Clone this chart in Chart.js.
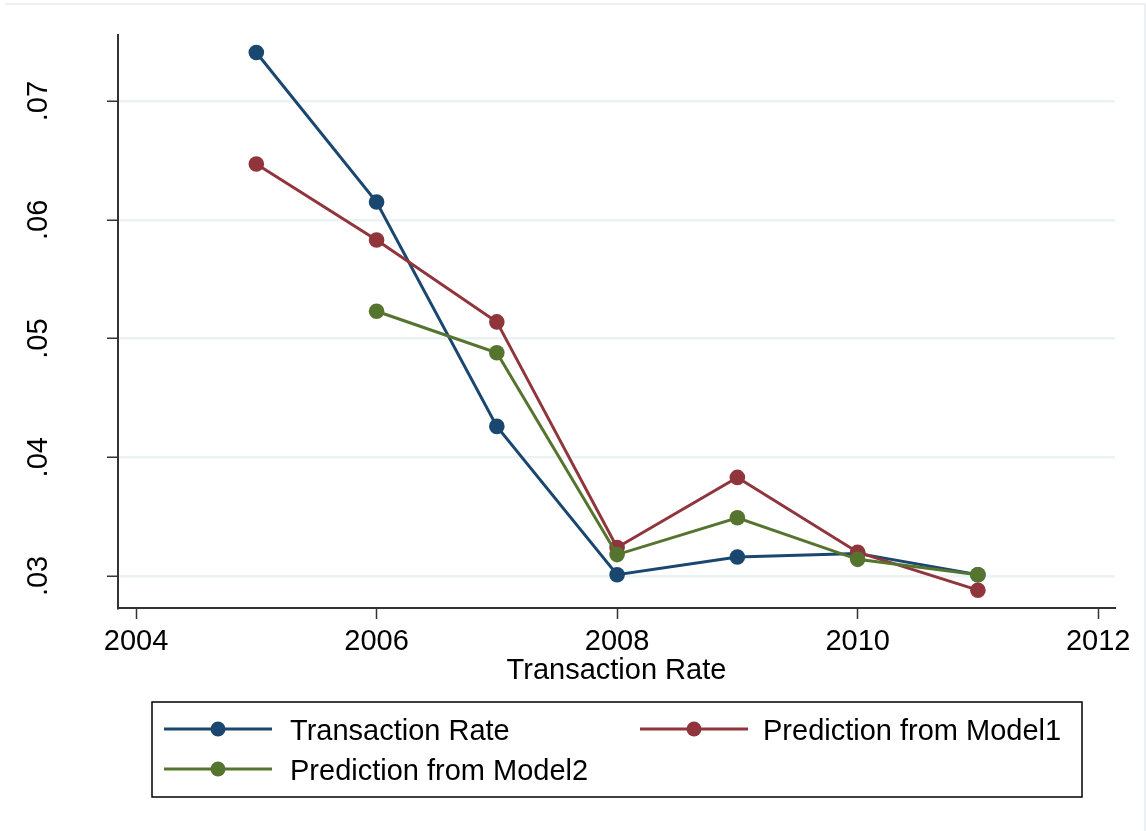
<!DOCTYPE html>
<html><head><meta charset="utf-8">
<script src="https://cdn.jsdelivr.net/npm/chart.js@4.4.1/dist/chart.umd.min.js"></script>
<style>html,body{margin:0;padding:0;background:#fff;} #wrap{width:1146px;height:831px;position:relative;}</style>
</head><body><div id="wrap"><canvas id="c" width="1146" height="831"></canvas></div>
<script>
const years = [2005, 2006, 2007, 2008, 2009, 2010, 2011];
const transactionRate = [0.0741, 0.0615, 0.0426, 0.0301, 0.0316, 0.0319, 0.0301];
const model1 = [0.0647, 0.0583, 0.0514, 0.0324, 0.0383, 0.0320, 0.0288];
const model2 = [null, 0.0523, 0.0488, 0.0318, 0.0349, 0.0314, 0.0301];
const xTicks = [2004, 2006, 2008, 2010, 2012];
const yTicks = [0.03, 0.04, 0.05, 0.06, 0.07];
const yTickLabels = ['.03', '.04', '.05', '.06', '.07'];
const seriesNames = ['Transaction Rate', 'Prediction from Model1', 'Prediction from Model2'];
const xTitle = 'Transaction Rate';

const FONT = "'Liberation Sans', Arial, Helvetica, sans-serif";
const FS = 29;
const colors = ['#1a476f', '#90353b', '#55752f'];

function pts(arr) { return years.map((y, i) => ({x: y, y: arr[i]})).filter(p => p.y !== null); }

function ds(name, arr, color, order) {
  return {label: name, data: pts(arr), borderColor: color, backgroundColor: color,
    pointBackgroundColor: color, pointBorderColor: color, borderWidth: 3,
    pointRadius: 7.8, pointBorderWidth: 0, pointHoverRadius: 7.8, tension: 0, order: order};
}

const frame = {
  id: 'frame',
  beforeDraw(chart) {
    const c = chart.ctx;
    c.save();
    c.fillStyle = '#fff';
    c.fillRect(0, 0, chart.width, chart.height);
    c.strokeStyle = '#e4ecf0';
    c.lineWidth = 1.5;
    c.beginPath();
    c.moveTo(5, 4); c.lineTo(1145, 4); c.lineTo(1145, 831);
    c.stroke();
    c.restore();
  },
  afterDraw(chart) {
    const c = chart.ctx;
    const ys = chart.scales.y;
    c.save();
    c.fillStyle = '#000';
    c.font = FS + 'px ' + FONT;
    c.textAlign = 'center';
    c.textBaseline = 'alphabetic';
    yTicks.forEach((v, i) => {
      const py = ys.getPixelForValue(v);
      c.save();
      c.translate(47, py);
      c.rotate(-Math.PI / 2);
      c.fillText(yTickLabels[i], 0, 0);
      c.restore();
    });
    // legend
    const bx = 152, by = 702, bw = 930, bh = 95;
    c.strokeStyle = '#000';
    c.lineWidth = 1.5;
    c.strokeRect(bx, by, bw, bh);
    const items = [
      {i: 0, lx: 164, tx: 290, y: 729},
      {i: 1, lx: 640, tx: 763, y: 729},
      {i: 2, lx: 164, tx: 290, y: 769}
    ];
    c.textAlign = 'left';
    c.textBaseline = 'middle';
    items.forEach(it => {
      const d = chart.data.datasets[it.i];
      c.strokeStyle = d.borderColor;
      c.lineWidth = 3;
      c.beginPath();
      c.moveTo(it.lx, it.y); c.lineTo(it.lx + 108, it.y);
      c.stroke();
      c.fillStyle = d.borderColor;
      c.beginPath();
      c.arc(it.lx + 54, it.y, 7.5, 0, Math.PI * 2);
      c.fill();
      c.fillStyle = '#000';
      c.fillText(d.label, it.tx, it.y + 3);
    });
    c.restore();
  }
};

new Chart(document.getElementById('c'), {
  type: 'line',
  data: {datasets: [
    ds(seriesNames[0], transactionRate, colors[0], 3),
    ds(seriesNames[1], model1, colors[1], 2),
    ds(seriesNames[2], model2, colors[2], 1)
  ]},
  options: {
    responsive: false,
    animation: false,
    events: [],
    layout: {padding: {left: 0, top: 35, right: 31, bottom: 143}},
    plugins: {legend: {display: false}, tooltip: {enabled: false}},
    scales: {
      x: {
        type: 'linear', min: 2003.85, max: 2012.14,
        afterBuildTicks: s => { s.ticks = xTicks.map(v => ({value: v})); },
        afterFit: s => { s.height = 80; },
        grid: {drawOnChartArea: false, drawTicks: true, tickLength: 11, tickColor: '#333', tickWidth: 1.5},
        border: {display: true, color: '#333', width: 2},
        ticks: {color: '#000', font: {family: FONT, size: FS}, padding: 6, maxRotation: 0, autoSkip: false,
          callback: v => String(v)},
        title: {display: true, text: xTitle, color: '#000', font: {family: FONT, size: FS}, padding: 0}
      },
      y: {
        type: 'linear', min: 0.0273, max: 0.07557,
        afterBuildTicks: s => { s.ticks = yTicks.map(v => ({value: v})); },
        afterFit: s => { s.width = 118; },
        grid: {color: '#eaf2f3', lineWidth: 2.5, drawTicks: true, tickLength: 11, tickColor: '#333', tickWidth: 1.5},
        border: {display: true, color: '#333', width: 2},
        ticks: {display: false}
      }
    }
  },
  plugins: [frame]
});
</script>
</body></html>
